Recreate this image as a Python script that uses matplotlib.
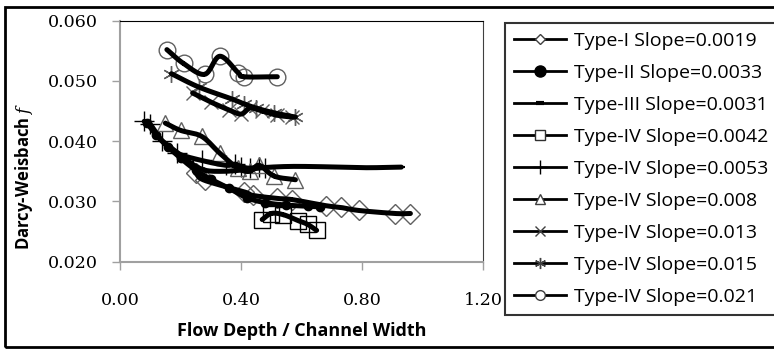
import numpy as np
import matplotlib
matplotlib.use("Agg")
import matplotlib.pyplot as plt
from matplotlib.lines import Line2D
from matplotlib.patches import Rectangle
from matplotlib.ticker import FormatStrFormatter

# series: flow depth / channel width -> Darcy-Weisbach f
t1_x = [0.25, 0.28, 0.41, 0.44, 0.52, 0.57, 0.68, 0.73, 0.79, 0.91, 0.96]
t1_f = [0.0347, 0.0335, 0.0316, 0.0310, 0.0305, 0.0303, 0.0293, 0.0290, 0.0285, 0.0280, 0.0280]

t2_x = [0.09, 0.12, 0.16, 0.20, 0.25, 0.30, 0.36, 0.42, 0.48, 0.55, 0.62, 0.66]
t2_f = [0.0430, 0.0410, 0.0390, 0.0372, 0.0352, 0.0337, 0.0322, 0.0306, 0.0298, 0.0294, 0.0292, 0.0291]

t3_x = [0.09, 0.13, 0.18, 0.23, 0.28, 0.34, 0.40, 0.47, 0.55, 0.63, 0.72, 0.82, 0.93]
t3_f = [0.0432, 0.0405, 0.0385, 0.0365, 0.0352, 0.0350, 0.0352, 0.0356, 0.0358, 0.0358, 0.0357, 0.0356, 0.0357]

s0042_x = [0.47, 0.50, 0.54, 0.59, 0.62, 0.65]
s0042_f = [0.0270, 0.0280, 0.0278, 0.0268, 0.0262, 0.0252]

s0053_x = [0.08, 0.10, 0.14, 0.19, 0.27, 0.35, 0.38, 0.40, 0.43, 0.46, 0.48]
s0053_f = [0.0433, 0.0428, 0.0400, 0.0380, 0.0368, 0.0360, 0.0362, 0.0358, 0.0355, 0.0358, 0.0356]

s008_x = [0.15, 0.20, 0.27, 0.33, 0.39, 0.43, 0.46, 0.51, 0.58]
s008_f = [0.0430, 0.0418, 0.0408, 0.0380, 0.0355, 0.0350, 0.0360, 0.0342, 0.0336]

s013_x = [0.24, 0.30, 0.36, 0.40, 0.43, 0.47, 0.52, 0.57]
s013_f = [0.0480, 0.0465, 0.0452, 0.0445, 0.0455, 0.0450, 0.0443, 0.0440]

s015_x = [0.17, 0.26, 0.37, 0.41, 0.45, 0.51, 0.58]
s015_f = [0.0512, 0.0490, 0.0470, 0.0462, 0.0455, 0.0447, 0.0440]

s021_x = [0.155, 0.21, 0.28, 0.33, 0.39, 0.41, 0.52]
s021_f = [0.0552, 0.0529, 0.0511, 0.0541, 0.0514, 0.0507, 0.0507]

labels = ["Type-I Slope=0.0019", "Type-II Slope=0.0033", "Type-III Slope=0.0031",
          "Type-IV Slope=0.0042", "Type-IV Slope=0.0053", "Type-IV Slope=0.008",
          "Type-IV Slope=0.013", "Type-IV Slope=0.015", "Type-IV Slope=0.021"]


def smooth(x, y, n=20):
    # excel-style smoothed line through the points (catmull-rom)
    x = np.asarray(x, float)
    y = np.asarray(y, float)
    px = np.concatenate([[2 * x[0] - x[1]], x, [2 * x[-1] - x[-2]]])
    py = np.concatenate([[2 * y[0] - y[1]], y, [2 * y[-1] - y[-2]]])
    t = np.linspace(0, 1, n)
    ox, oy = [], []
    for i in range(1, len(px) - 2):
        for p, out in ((px, ox), (py, oy)):
            p0, p1, p2, p3 = p[i - 1], p[i], p[i + 1], p[i + 2]
            out.extend(0.5 * (2 * p1 + (-p0 + p2) * t
                              + (2 * p0 - 5 * p1 + 4 * p2 - p3) * t ** 2
                              + (-p0 + 3 * p1 - 3 * p2 + p3) * t ** 3))
    return ox, oy


gray = "#606060"
# marker style on the chart, marker style in the legend
series = [
    (t1_x, t1_f, dict(marker="D", ms=10, mfc="none", mec=gray, mew=1.0),
     dict(marker="D", ms=5.5, mfc="white", mec="#404040", mew=1.0)),
    (t2_x, t2_f, dict(marker="o", ms=6, mfc="black", mec="black", mew=1.0),
     dict(marker="o", ms=8, mfc="black", mec="black")),
    (t3_x, t3_f, dict(marker="_", ms=6, mec="black", mew=1.5),
     dict(marker="_", ms=6, mec="black", mew=3)),
    (s0042_x, s0042_f, dict(marker="s", ms=12, mfc="none", mec="black", mew=1.0),
     dict(marker="s", ms=7, mfc="white", mec="#303030", mew=1.0)),
    (s0053_x, s0053_f, dict(marker="+", ms=14, mec="black", mew=1.0),
     dict(marker="+", ms=10, mec="black", mew=1.0)),
    (s008_x, s008_f, dict(marker="^", ms=11, mfc="none", mec=gray, mew=1.0),
     dict(marker="^", ms=7, mfc="white", mec="#404040", mew=1.0)),
    (s013_x, s013_f, dict(marker="x", ms=10, mec=gray, mew=1.0),
     dict(marker="x", ms=7, mec="#404040", mew=1.0)),
    (s015_x, s015_f, dict(marker=(6, 2, 0), ms=12, mec=gray, mew=1.0),
     dict(marker=(6, 2, 0), ms=8, mec="#404040", mew=1.0)),
    (s021_x, s021_f, dict(marker="o", ms=12, mfc="none", mec=gray, mew=1.0),
     dict(marker="o", ms=7, mfc="white", mec="#404040", mew=1.0)),
]

plt.rcParams["mathtext.fontset"] = "custom"
plt.rcParams["mathtext.it"] = "DejaVu Serif:italic"

fig = plt.figure(figsize=(7.74, 3.51), dpi=100)
ax = fig.add_axes([120 / 774, 1 - 261.7 / 351, 363 / 774, 241 / 351])

handles = []
for (x, f, mk, lmk), lab in zip(series, labels):
    ax.plot(x, f, ls="none", zorder=3, **mk)
    sx, sy = smooth(x, f)
    ax.plot(sx, sy, color="black", lw=3.6, solid_capstyle="round", zorder=4)
    handles.append(Line2D([], [], color="black", lw=2, **lmk))

ax.set_xlim(0, 1.2)
ax.set_ylim(0.02, 0.06)
ax.set_xticks([0.0, 0.4, 0.8, 1.2])
ax.set_yticks([0.02, 0.03, 0.04, 0.05, 0.06])
ax.xaxis.set_major_formatter(FormatStrFormatter("%.2f"))
ax.yaxis.set_major_formatter(FormatStrFormatter("%.3f"))
ax.tick_params(axis="both", direction="out", length=6, width=1, colors="#a0a0a0",
               labelcolor="black", labelsize=12.6, labelfontfamily="DejaVu Serif")
ax.tick_params(axis="y", pad=10)
ax.tick_params(axis="x", pad=16)
ax.spines["left"].set_color("#a0a0a0")
ax.spines["bottom"].set_color("#a0a0a0")
ax.spines["left"].set_linewidth(1.5)
ax.spines["bottom"].set_linewidth(1.5)
ax.spines["top"].set_color("black")
ax.spines["right"].set_color("#404040")

ax.set_xlabel("Flow Depth / Channel Width", fontfamily="Open Sans", fontweight="bold", fontsize=13)
ax.set_ylabel("Darcy-Weisbach $f$", fontfamily="Open Sans", fontweight="bold", fontsize=12)
ax.xaxis.set_label_coords(0.5, -0.25)
ax.yaxis.set_label_coords(-0.235, 0.356)

leg = ax.legend(handles, labels, loc="upper left", bbox_to_anchor=(505 / 774, 1 - 23 / 351),
                bbox_transform=fig.transFigure, prop={"family": "Open Sans", "size": 14},
                frameon=True, fancybox=False, edgecolor="black", handlelength=2.7,
                handletextpad=0.4, labelspacing=0.72, borderpad=0.45, borderaxespad=0)
leg.get_frame().set_linewidth(1.5)

fig.patches.append(Rectangle((5 / 774, 4 / 351), 1.0, 1 - 11 / 351, transform=fig.transFigure,
                             fill=False, edgecolor="black", lw=2))

fig.savefig("out.png", dpi=100)
